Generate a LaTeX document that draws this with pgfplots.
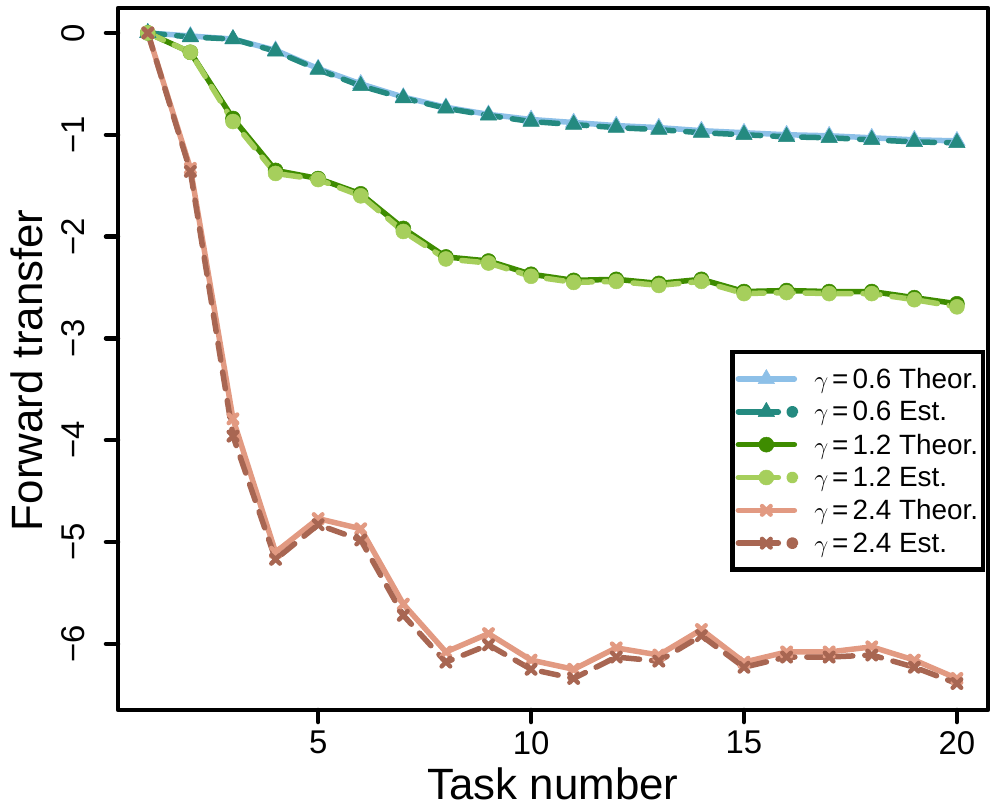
\documentclass[border=0pt]{standalone}
\usepackage{pgfplots}
\pgfplotsset{compat=1.18}
\usepackage{fontspec}
\setmainfont{Liberation Sans}
\definecolor{blueT}{HTML}{8DC0E8}
\definecolor{tealE}{HTML}{248A80}
\definecolor{greenT}{HTML}{3E8C00}
\definecolor{greenE}{HTML}{A6CF5C}
\definecolor{salmonT}{HTML}{E29A82}
\definecolor{brownE}{HTML}{A86652}
\pgfplotsset{
  theor/.style={color=#1, line width=5.5bp, solid, line cap=round, line join=round,
    legend image code/.code={\draw[##1, mark repeat=2, mark phase=2] plot coordinates {(0bp,0bp)(28bp,0bp)(56bp,0bp)};}},
  est/.style={color=#1, line width=5.5bp, dash pattern=on 17bp off 12bp, line cap=round, line join=round,
    legend image code/.code={\draw[##1, solid, mark repeat=2, mark phase=2] plot coordinates {(0bp,0bp)(28bp,0bp)(40bp,0bp)}; \fill[#1] (54bp,0bp) circle (3.2bp);}},
  tri/.style={mark=triangle*, mark size=9.5bp, mark options={solid, line width=0.5bp}},
  circ/.style={mark=*, mark size=7.5bp, mark options={solid, line width=0.5bp}},
  crs/.style={mark=x, mark size=6bp, mark options={solid, line width=4.5bp, line cap=round}},
}
\pgfplotstableread{
x  t06   e06   t12   e12   t24   e24
1  0     0     0     0     0     0
2  -0.03 -0.04 -0.19 -0.19 -1.33 -1.36
3  -0.06 -0.06 -0.84 -0.87 -3.79 -3.96
4  -0.17 -0.18 -1.35 -1.38 -5.10 -5.17
5  -0.35 -0.36 -1.43 -1.44 -4.77 -4.83
6  -0.50 -0.52 -1.58 -1.60 -4.87 -4.98
7  -0.63 -0.64 -1.92 -1.95 -5.61 -5.72
8  -0.73 -0.74 -2.20 -2.22 -6.08 -6.18
9  -0.80 -0.81 -2.24 -2.26 -5.90 -6.01
10 -0.85 -0.87 -2.37 -2.39 -6.16 -6.25
11 -0.88 -0.90 -2.43 -2.45 -6.25 -6.34
12 -0.91 -0.93 -2.42 -2.44 -6.04 -6.13
13 -0.93 -0.95 -2.46 -2.48 -6.11 -6.17
14 -0.96 -0.98 -2.42 -2.44 -5.86 -5.92
15 -0.98 -1.00 -2.54 -2.56 -6.18 -6.23
16 -1.00 -1.02 -2.53 -2.55 -6.08 -6.13
17 -1.01 -1.03 -2.54 -2.56 -6.08 -6.13
18 -1.03 -1.05 -2.54 -2.56 -6.03 -6.11
19 -1.05 -1.07 -2.60 -2.62 -6.16 -6.23
20 -1.06 -1.08 -2.66 -2.69 -6.34 -6.39
}\datatable
\newcommand{\gam}[1]{$\gamma$\hspace{4bp}=\hspace{4bp}#1}
\begin{document}
\begin{tikzpicture}
\begin{axis}[
  width=870bp, height=702bp, scale only axis,
  xmin=0.3, xmax=20.73, ymin=-6.65, ymax=0.245,
  axis line style={line width=4.5bp, line join=round},
  tick align=outside, tick pos=left,
  major tick length=12bp,
  every tick/.style={black, line width=4.5bp, line cap=round},
  xtick={5,10,15,20}, xticklabels={5,10,15,20},
  ytick={-6,-5,-4,-3,-2,-1,0}, yticklabels={−6,−5,−4,−3,−2,−1,0},
  tick label style={font=\fontsize{33}{40}\selectfont},
  xticklabel style={yshift=-9bp, anchor=north, inner sep=0pt},
  yticklabel style={xshift=-21bp, rotate=90, anchor=south, inner sep=0pt},
  xlabel={Task number}, ylabel={Forward transfer},
  label style={font=\fontsize{44}{52}\selectfont},
  xlabel style={at={(axis description cs:0.5,-0.1054)}, anchor=center},
  ylabel style={at={(axis description cs:-0.1046,0.484)}, anchor=center, rotate=0},
  legend style={at={(axis description cs:0.997,0.513)}, anchor=north east,
    draw=black, line width=4.5bp, inner xsep=3bp, inner ysep=14bp,
    font=\fontsize{28}{34}\selectfont, row sep=7.5bp,
    nodes={inner sep=2bp},
    /tikz/every odd column/.append style={column sep=14bp}},
  legend cell align=left,
]
\addplot[theor=blueT, tri] table[x=x, y=t06] {\datatable};
\addlegendentry{\gam{0.6} Theor.}
\addplot[est=tealE, tri] table[x=x, y=e06] {\datatable};
\addlegendentry{\gam{0.6} Est.}
\addplot[theor=greenT, circ] table[x=x, y=t12] {\datatable};
\addlegendentry{\gam{1.2} Theor.}
\addplot[est=greenE, circ] table[x=x, y=e12] {\datatable};
\addlegendentry{\gam{1.2} Est.}
\addplot[theor=salmonT, crs] table[x=x, y=t24] {\datatable};
\addlegendentry{\gam{2.4} Theor.}
\addplot[est=brownE, crs] table[x=x, y=e24] {\datatable};
\addlegendentry{\gam{2.4} Est.}
\coordinate (bl) at (rel axis cs:0,0);
\coordinate (tr) at (rel axis cs:1,1);
\end{axis}
\pgfresetboundingbox
\path ([shift={(-118bp,-100bp)}]bl) rectangle ([shift={(9bp,8bp)}]tr);
\end{tikzpicture}
\end{document}
